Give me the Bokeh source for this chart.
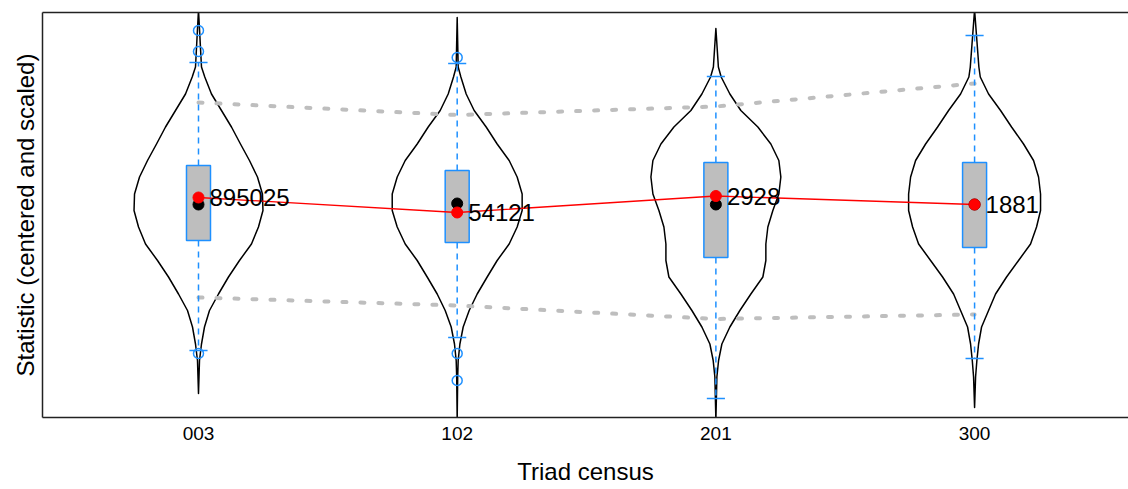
from bokeh.plotting import figure
from bokeh.models import Range1d, LinearAxis, FixedTicker, ColumnDataSource
from bokeh.core.properties import value
from bokeh.embed import file_html
from bokeh.resources import INLINE

# ---------------- data ----------------
categories = ["003", "102", "201", "300"]
cat_pos = [1, 2, 3, 4]
observed = [0.35, 0.05, 0.38, 0.21]
obs_labels = ["895025", "54121", "2928", "1881"]
sim_median = [0.21, 0.23, 0.21, 0.21]
q1 = [-0.51, -0.55, -0.85, -0.65]
q3 = [0.99, 0.89, 1.05, 1.05]
whisk_lo = [-2.71, -2.45, -3.67, -2.87]
whisk_hi = [3.05, 3.03, 2.77, 3.59]
outlier_cat = [1, 1, 1, 2, 2, 2]
outlier_y = [3.69, 3.27, -2.77, 3.15, -2.77, -3.31]
upper_band = [2.25, 2.0, 2.17, 2.63]
lower_band = [-1.65, -1.81, -2.08, -1.99]
sim_min = [-3.57, -4.1, -4.1, -3.85]
sim_max = [4.1, 3.95, 3.73, 4.1]
dens_y = [2.96, 2.76, 2.42, 2.09, 1.76, 1.42, 1.09, 0.76, 0.42, 0.09,
          -0.24, -0.58, -0.91, -1.24, -1.58, -1.91, -2.24, -2.58, -2.91, -3.24]
dens_003 = [3, 6.3, 13, 23, 33, 42, 51, 59, 64, 64.5, 60, 53, 41, 30, 20, 11, 6, 3, 1, 0.5]
dens_102 = [1, 3.7, 9, 17, 29, 40, 52, 60, 65, 65, 60, 52, 40, 30, 20, 12, 6, 2.7, 1, 0.5]
dens_201 = [2.5, 5.3, 14, 25, 42, 55, 63, 65, 63, 57, 52, 50, 50, 47, 35, 24, 14, 6, 2.7, 1]
dens_300 = [4.3, 5.7, 14, 26, 37, 49, 59, 64, 66, 66, 62, 56, 44, 32, 21, 14, 7, 4, 2.3, 1]
densities = [dens_003, dens_102, dens_201, dens_300]

FONT = "Liberation Sans"
BLUE = "#1E90FF"
GRAY = "#BEBEBE"
VIOLIN_HALF = 0.255
BOX_HALF = 0.0464
STAPLE_HALF = 0.035

p = figure(width=1128, height=489, output_backend="svg", toolbar_location=None,
           x_range=Range1d(0.397, 4.595), y_range=Range1d(-4.05, 4.05),
           x_axis_location=None, y_axis_location=None,
           min_border_left=42, min_border_right=0, min_border_top=12, min_border_bottom=72)
p.outline_line_color = None
p.grid.visible = False
p.background_fill_color = "white"
p.border_fill_color = "white"

# axes
yax = LinearAxis(ticker=FixedTicker(ticks=[]), axis_label="Statistic (centered and scaled)")
yax.axis_label_text_font = FONT
yax.axis_label_text_font_size = "24px"
yax.axis_label_text_font_style = "normal"
yax.axis_label_text_color = "black"
yax.axis_label_standoff = 4
yax.axis_line_color = "#222222"
yax.axis_line_width = 1.5
yax.major_tick_line_color = None
yax.minor_tick_line_color = None
yax.major_label_text_font_size = "0px"
p.add_layout(yax, "left")

xax = LinearAxis(ticker=FixedTicker(ticks=cat_pos), axis_label="Triad census")
xax.major_label_overrides = {c: lab for c, lab in zip(cat_pos, categories)}
xax.major_label_text_font = FONT
xax.major_label_text_font_size = "19px"
xax.major_label_text_color = "black"
xax.major_label_standoff = 9
xax.major_tick_line_color = None
xax.major_tick_out = 0
xax.minor_tick_line_color = None
xax.axis_label_text_font = FONT
xax.axis_label_text_font_size = "24px"
xax.axis_label_text_font_style = "normal"
xax.axis_label_text_color = "black"
xax.axis_label_standoff = 15
xax.axis_line_color = "#222222"
xax.axis_line_width = 1.5
p.add_layout(xax, "below")

tax = LinearAxis(ticker=FixedTicker(ticks=[]))
tax.axis_line_color = "#222222"
tax.axis_line_width = 1.5
tax.major_tick_line_color = None
tax.minor_tick_line_color = None
tax.major_label_text_font_size = "0px"
p.add_layout(tax, "above")

# violins
scale = VIOLIN_HALF / max(max(d) for d in densities)
vxs, vys = [], []
for c, d, lo, hi in zip(cat_pos, densities, sim_min, sim_max):
    ys = [hi] + dens_y + [lo]
    ws = [0] + [v * scale for v in d] + [0]
    xs_left = [c - w for w in ws]
    xs_right = [c + w for w in ws]
    vxs.append(xs_left + xs_right[::-1])
    vys.append(ys + ys[::-1])
p.patches(vxs, vys, fill_color=None, line_color="black", line_width=1.5, line_join="round")

# quantile bands
p.line(cat_pos, upper_band, line_color=GRAY, line_width=4, line_dash="4 14", line_cap="round")
p.line(cat_pos, lower_band, line_color=GRAY, line_width=4, line_dash="4 14", line_cap="round")

# whiskers
p.segment(x0=cat_pos, y0=q3, x1=cat_pos, y1=whisk_hi, line_color=BLUE, line_width=1.5, line_dash="6 5")
p.segment(x0=cat_pos, y0=q1, x1=cat_pos, y1=whisk_lo, line_color=BLUE, line_width=1.5, line_dash="6 5")
p.segment(x0=[c - STAPLE_HALF for c in cat_pos], y0=whisk_hi,
          x1=[c + STAPLE_HALF for c in cat_pos], y1=whisk_hi, line_color=BLUE, line_width=1.5)
p.segment(x0=[c - STAPLE_HALF for c in cat_pos], y0=whisk_lo,
          x1=[c + STAPLE_HALF for c in cat_pos], y1=whisk_lo, line_color=BLUE, line_width=1.5)

# boxes
p.quad(left=[c - BOX_HALF for c in cat_pos], right=[c + BOX_HALF for c in cat_pos],
       bottom=q1, top=q3, fill_color=GRAY, line_color=BLUE, line_width=1.5)

# outliers
p.scatter(outlier_cat, outlier_y, marker="circle", size=10, fill_color=None,
          line_color=BLUE, line_width=1.5)

# observed line and points
p.line(cat_pos, observed, line_color="red", line_width=1.3)
p.scatter(cat_pos, sim_median, marker="circle", size=11, fill_color="black", line_color="black")
p.scatter(cat_pos, observed, marker="circle", size=11, fill_color="red", line_color="red")

src = ColumnDataSource(dict(x=cat_pos, y=observed, t=obs_labels))
p.text(x="x", y="y", text="t", source=src, x_offset=11, text_baseline="middle",
       text_align="left", text_font=value(FONT), text_font_size="24px", text_color="black")

open("out.html", "w").write(file_html(p, INLINE))
